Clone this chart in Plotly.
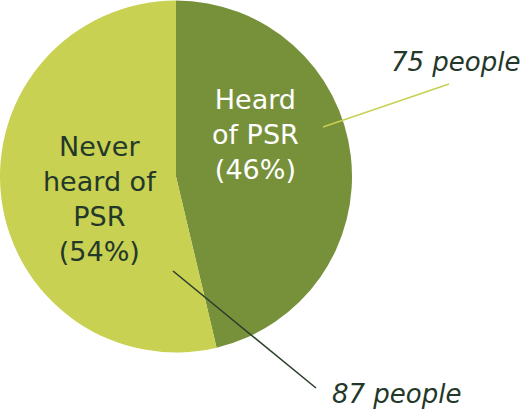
import plotly.graph_objects as go

# Survey responses: awareness of PSR
labels = ["Heard of PSR", "Never heard of PSR"]
counts = [75, 87]
slice_colors = ["#77913b", "#c8d151"]
label_lines = [["Heard", "of PSR"], ["Never", "heard of", "PSR"]]
count_labels = [f"{c} people" for c in counts]

total = sum(counts)
pcts = [round(c / total * 100) for c in counts]

W, H = 527, 412
FONT = "DejaVu Sans"
DARK = "#24382a"


def px(x, y):
    """Pixel position -> paper coordinates."""
    return x / W, 1 - y / H


fig = go.Figure(
    go.Pie(
        labels=labels,
        values=counts,
        sort=False,
        direction="clockwise",
        rotation=0,
        marker=dict(colors=slice_colors, line=dict(width=0)),
        textinfo="none",
        hoverinfo="label+value+percent",
        domain=dict(x=[0, 352 / W], y=[1 - 353 / H, 1]),
        showlegend=False,
    )
)

annotations = []

# In-slice labels
for lines, pct, (cx, cy), color in [
    (label_lines[0], pcts[0], (255, 134), "white"),
    (label_lines[1], pcts[1], (100, 199), DARK),
]:
    ax, ay = px(cx, cy)
    annotations.append(
        dict(
            x=ax, y=ay, xref="paper", yref="paper",
            text="<br>".join(lines + [f"({pct}%)"]),
            showarrow=False, xanchor="center", yanchor="middle",
            font=dict(family=FONT, size=27, color=color),
        )
    )

# Count call-outs
for txt, (tx, ty) in zip(count_labels, [(455, 62), (396, 394)]):
    ax, ay = px(tx, ty)
    annotations.append(
        dict(
            x=ax, y=ay, xref="paper", yref="paper",
            text=f"<i>{txt}</i>",
            showarrow=False, xanchor="center", yanchor="middle",
            font=dict(family=FONT, size=26, color=DARK),
        )
    )

# Leader lines
shapes = []
for (x0, y0, x1, y1), col in [
    ((323, 127, 449, 84), "#c8d151"),
    ((173, 271, 316, 388), "#2c3f2c"),
]:
    a0, b0 = px(x0, y0)
    a1, b1 = px(x1, y1)
    shapes.append(
        dict(type="line", xref="paper", yref="paper",
             x0=a0, y0=b0, x1=a1, y1=b1, line=dict(color=col, width=1.6))
    )

fig.update_layout(
    width=W, height=H,
    margin=dict(l=0, r=0, t=0, b=0),
    paper_bgcolor="white",
    plot_bgcolor="white",
    annotations=annotations,
    shapes=shapes,
)

fig.write_html("out.html")
